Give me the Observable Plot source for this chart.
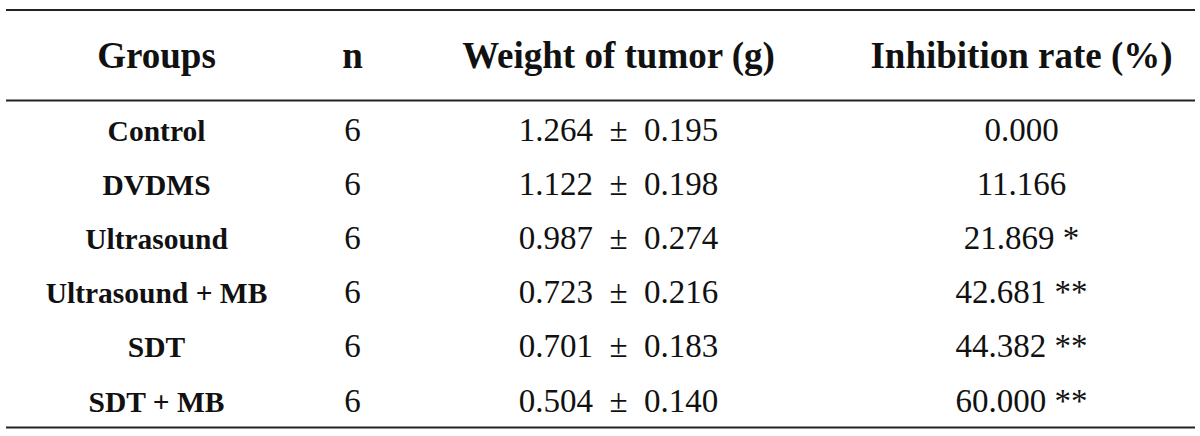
<!DOCTYPE html>
<html>
<head>
<meta charset="utf-8">
<script src="https://cdn.jsdelivr.net/npm/d3@7"></script>
<script src="https://cdn.jsdelivr.net/npm/@observablehq/plot@0.6"></script>
<style>
  html, body { margin: 0; padding: 0; background: #fff; }
  #chart svg { display: block; }
</style>
</head>
<body>
<div id="chart"></div>
<script>
const headers = ["Groups", "n", "Weight of tumor (g)", "Inhibition rate (%)"];
const groups = ["Control", "DVDMS", "Ultrasound", "Ultrasound + MB", "SDT", "SDT + MB"];
const nValues = [6, 6, 6, 6, 6, 6];
const weightMean = [1.264, 1.122, 0.987, 0.723, 0.701, 0.504];
const weightSD = [0.195, 0.198, 0.274, 0.216, 0.183, 0.140];
const inhibitionRate = [0.000, 11.166, 21.869, 42.681, 44.382, 60.000];
const significance = ["", "", "*", "**", "**", "**"];

// ---- Table rows built from the arrays ----
const rows = groups.map((g, i) => ({
  row: i,
  group: g,
  n: String(nValues[i]),
  weight: `${weightMean[i].toFixed(3)}\u2002\u00B1\u2002${weightSD[i].toFixed(3)}`,
  rate: inhibitionRate[i].toFixed(3) + (significance[i] ? " " + significance[i] : "")
}));

// row slots: -3 top rule, -2 header, -1 header rule, 0..5 data rows, 6 bottom rule
const FONT = "'Liberation Serif', 'Times New Roman', Times, serif";
const INK = "#111111";

const chart = Plot.plot({
  width: 1200,
  height: 436,
  margin: 0,
  style: {background: "#fff", fontFamily: FONT},
  x: {type: "linear", domain: [0, 1, 2, 3], range: [156, 352, 618, 1021], axis: null},
  y: {type: "linear", domain: [-3, -2, -1, 0, 5, 6], range: [9.5, 67, 100, 140, 411, 427], axis: null},
  marks: [
    Plot.ruleY([-3, -1, 6], {stroke: "#222", strokeWidth: 2.2, insetLeft: 6, insetRight: 5}),
    Plot.text(headers, {
      x: (d, i) => i, y: () => -2, text: d => d,
      fontWeight: "bold", fontSize: 37, fontFamily: FONT, fill: INK, lineAnchor: "bottom"
    }),
    Plot.text(rows, {
      x: () => 0, y: "row", text: "group",
      fontWeight: "bold", fontSize: 29.5, fontFamily: FONT, fill: INK, lineAnchor: "bottom"
    }),
    Plot.text(rows, {
      x: () => 1, y: "row", text: "n",
      fontSize: 33, fontFamily: FONT, fill: INK, lineAnchor: "bottom"
    }),
    Plot.text(rows, {
      x: () => 2, y: "row", text: "weight",
      fontSize: 33, fontFamily: FONT, fill: INK, lineAnchor: "bottom"
    }),
    Plot.text(rows, {
      x: () => 3, y: "row", text: "rate",
      fontSize: 33, fontFamily: FONT, fill: INK, lineAnchor: "bottom"
    })
  ]
});

document.getElementById("chart").appendChild(chart);
</script>
</body>
</html>
